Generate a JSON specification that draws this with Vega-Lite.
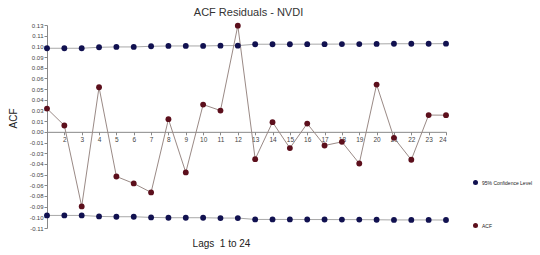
{
  "$schema": "https://vega.github.io/schema/vega-lite/v6.json",
  "width": 399,
  "height": 203,
  "autosize": "none",
  "padding": {"left": 47, "top": 25, "right": 94, "bottom": 27},
  "background": "white",
  "config": {
    "view": {"stroke": null},
    "font": "Liberation Sans"
  },
  "title": {
    "text": "ACF Residuals - NVDI",
    "fontSize": 11,
    "fontWeight": "normal",
    "color": "#333333",
    "offset": 4,
    "dx": 2
  },
  "data": {
    "values": [
      {"lag": 1, "value": 0.1017, "series": "95% Confidence Level", "band": "upper"},
      {"lag": 2, "value": 0.1017, "series": "95% Confidence Level", "band": "upper"},
      {"lag": 3, "value": 0.1017, "series": "95% Confidence Level", "band": "upper"},
      {"lag": 4, "value": 0.1029, "series": "95% Confidence Level", "band": "upper"},
      {"lag": 5, "value": 0.1033, "series": "95% Confidence Level", "band": "upper"},
      {"lag": 6, "value": 0.1033, "series": "95% Confidence Level", "band": "upper"},
      {"lag": 7, "value": 0.1041, "series": "95% Confidence Level", "band": "upper"},
      {"lag": 8, "value": 0.1045, "series": "95% Confidence Level", "band": "upper"},
      {"lag": 9, "value": 0.1045, "series": "95% Confidence Level", "band": "upper"},
      {"lag": 10, "value": 0.1045, "series": "95% Confidence Level", "band": "upper"},
      {"lag": 11, "value": 0.1049, "series": "95% Confidence Level", "band": "upper"},
      {"lag": 12, "value": 0.1049, "series": "95% Confidence Level", "band": "upper"},
      {"lag": 13, "value": 0.1066, "series": "95% Confidence Level", "band": "upper"},
      {"lag": 14, "value": 0.1066, "series": "95% Confidence Level", "band": "upper"},
      {"lag": 15, "value": 0.1066, "series": "95% Confidence Level", "band": "upper"},
      {"lag": 16, "value": 0.1067, "series": "95% Confidence Level", "band": "upper"},
      {"lag": 17, "value": 0.1067, "series": "95% Confidence Level", "band": "upper"},
      {"lag": 18, "value": 0.1068, "series": "95% Confidence Level", "band": "upper"},
      {"lag": 19, "value": 0.1068, "series": "95% Confidence Level", "band": "upper"},
      {"lag": 20, "value": 0.1070, "series": "95% Confidence Level", "band": "upper"},
      {"lag": 21, "value": 0.1072, "series": "95% Confidence Level", "band": "upper"},
      {"lag": 22, "value": 0.1072, "series": "95% Confidence Level", "band": "upper"},
      {"lag": 23, "value": 0.1072, "series": "95% Confidence Level", "band": "upper"},
      {"lag": 24, "value": 0.1073, "series": "95% Confidence Level", "band": "upper"},
      {"lag": 1, "value": -0.1017, "series": "95% Confidence Level", "band": "lower"},
      {"lag": 2, "value": -0.1017, "series": "95% Confidence Level", "band": "lower"},
      {"lag": 3, "value": -0.1017, "series": "95% Confidence Level", "band": "lower"},
      {"lag": 4, "value": -0.1029, "series": "95% Confidence Level", "band": "lower"},
      {"lag": 5, "value": -0.1033, "series": "95% Confidence Level", "band": "lower"},
      {"lag": 6, "value": -0.1033, "series": "95% Confidence Level", "band": "lower"},
      {"lag": 7, "value": -0.1041, "series": "95% Confidence Level", "band": "lower"},
      {"lag": 8, "value": -0.1045, "series": "95% Confidence Level", "band": "lower"},
      {"lag": 9, "value": -0.1045, "series": "95% Confidence Level", "band": "lower"},
      {"lag": 10, "value": -0.1045, "series": "95% Confidence Level", "band": "lower"},
      {"lag": 11, "value": -0.1049, "series": "95% Confidence Level", "band": "lower"},
      {"lag": 12, "value": -0.1049, "series": "95% Confidence Level", "band": "lower"},
      {"lag": 13, "value": -0.1066, "series": "95% Confidence Level", "band": "lower"},
      {"lag": 14, "value": -0.1066, "series": "95% Confidence Level", "band": "lower"},
      {"lag": 15, "value": -0.1066, "series": "95% Confidence Level", "band": "lower"},
      {"lag": 16, "value": -0.1067, "series": "95% Confidence Level", "band": "lower"},
      {"lag": 17, "value": -0.1067, "series": "95% Confidence Level", "band": "lower"},
      {"lag": 18, "value": -0.1068, "series": "95% Confidence Level", "band": "lower"},
      {"lag": 19, "value": -0.1068, "series": "95% Confidence Level", "band": "lower"},
      {"lag": 20, "value": -0.1070, "series": "95% Confidence Level", "band": "lower"},
      {"lag": 21, "value": -0.1072, "series": "95% Confidence Level", "band": "lower"},
      {"lag": 22, "value": -0.1072, "series": "95% Confidence Level", "band": "lower"},
      {"lag": 23, "value": -0.1072, "series": "95% Confidence Level", "band": "lower"},
      {"lag": 24, "value": -0.1073, "series": "95% Confidence Level", "band": "lower"},
      {"lag": 1, "value": 0.0283, "series": "ACF", "band": "acf"},
      {"lag": 2, "value": 0.0077, "series": "ACF", "band": "acf"},
      {"lag": 3, "value": -0.0907, "series": "ACF", "band": "acf"},
      {"lag": 4, "value": 0.0543, "series": "ACF", "band": "acf"},
      {"lag": 5, "value": -0.0543, "series": "ACF", "band": "acf"},
      {"lag": 6, "value": -0.0628, "series": "ACF", "band": "acf"},
      {"lag": 7, "value": -0.0737, "series": "ACF", "band": "acf"},
      {"lag": 8, "value": 0.0154, "series": "ACF", "band": "acf"},
      {"lag": 9, "value": -0.0494, "series": "ACF", "band": "acf"},
      {"lag": 10, "value": 0.0332, "series": "ACF", "band": "acf"},
      {"lag": 11, "value": 0.0259, "series": "ACF", "band": "acf"},
      {"lag": 12, "value": 0.1292, "series": "ACF", "band": "acf"},
      {"lag": 13, "value": -0.0332, "series": "ACF", "band": "acf"},
      {"lag": 14, "value": 0.0118, "series": "ACF", "band": "acf"},
      {"lag": 15, "value": -0.0198, "series": "ACF", "band": "acf"},
      {"lag": 16, "value": 0.0101, "series": "ACF", "band": "acf"},
      {"lag": 17, "value": -0.0166, "series": "ACF", "band": "acf"},
      {"lag": 18, "value": -0.0122, "series": "ACF", "band": "acf"},
      {"lag": 19, "value": -0.0385, "series": "ACF", "band": "acf"},
      {"lag": 20, "value": 0.0575, "series": "ACF", "band": "acf"},
      {"lag": 21, "value": -0.0073, "series": "ACF", "band": "acf"},
      {"lag": 22, "value": -0.0340, "series": "ACF", "band": "acf"},
      {"lag": 23, "value": 0.0204, "series": "ACF", "band": "acf"},
      {"lag": 24, "value": 0.0203, "series": "ACF", "band": "acf"}
    ]
  },
  "encoding": {
    "x": {
      "field": "lag",
      "type": "quantitative",
      "scale": {"domain": [1, 24], "nice": false, "zero": false},
      "axis": {
        "values": [1,2,3,4,5,6,7,8,9,10,11,12,13,14,15,16,17,18,19,20,21,22,23,24],
        "labelExpr": "datum.value == 1 ? '' : datum.label",
        "offset": {"expr": "scale('y', 0) - height"},
        "grid": false,
        "domainColor": "#888888",
        "tickColor": "#888888",
        "tickSize": 3,
        "labelFontSize": 6.5,
        "labelColor": "#444444",
        "labelPadding": 2,
        "title": "Lags\u00a0 1 to 24",
        "titleFontSize": 10,
        "titleFontWeight": "normal",
        "titleColor": "#222222",
        "titleX": 174,
        "titleY": 112,
        "titleBaseline": "middle",
        "titleAlign": "center"
      }
    },
    "y": {
      "field": "value",
      "type": "quantitative",
      "scale": {"domain": [-0.117, 0.13], "nice": false, "zero": false},
      "axis": {
        "values": [-0.117,-0.104,-0.091,-0.078,-0.065,-0.052,-0.039,-0.026,-0.013,0,0.013,0.026,0.039,0.052,0.065,0.078,0.091,0.104,0.117,0.13],
        "labelExpr": "['-0.11','-0.10','-0.09','-0.08','-0.06','-0.05','-0.04','-0.03','-0.01','0.00','0.01','0.03','0.04','0.05','0.06','0.08','0.09','0.10','0.11','0.13'][round(datum.value/0.013)+9]",
        "grid": false,
        "domainColor": "#888888",
        "tickColor": "#888888",
        "tickSize": 3,
        "labelFontSize": 6,
        "labelColor": "#444444",
        "labelPadding": 1,
        "title": "ACF",
        "titleFontSize": 10,
        "titleFontWeight": "normal",
        "titleColor": "#222222",
        "titleX": -34,
        "titleY": 93,
        "titleBaseline": "middle",
        "titleAlign": "center"
      }
    }
  },
  "layer": [
    {
      "mark": {"type": "line", "strokeWidth": 1},
      "encoding": {
        "stroke": {
          "field": "band",
          "type": "nominal",
          "scale": {"domain": ["upper", "lower", "acf"], "range": ["#a8a8a8", "#a8a8a8", "#9a8a86"]},
          "legend": null
        }
      }
    },
    {
      "mark": {"type": "point", "filled": true, "size": 34, "opacity": 1, "strokeWidth": 0.6},
      "encoding": {
        "color": {
          "field": "series",
          "type": "nominal",
          "scale": {"domain": ["95% Confidence Level", "ACF"], "range": ["#111150", "#5c0f1c"]},
          "legend": {
            "title": null,
            "orient": "none",
            "legendX": 425,
            "legendY": 154,
            "symbolType": "circle",
            "symbolSize": 25,
            "labelFontSize": 5,
            "labelColor": "#222222",
            "labelOffset": 3,
            "rowPadding": 36
          }
        }
      }
    }
  ]
}
